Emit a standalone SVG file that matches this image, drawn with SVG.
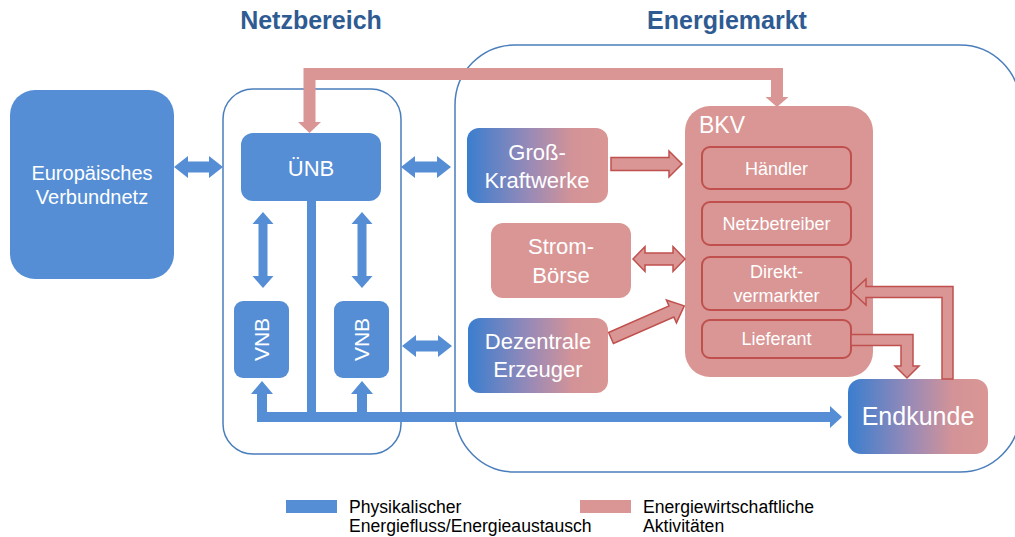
<svg xmlns="http://www.w3.org/2000/svg" width="1015" height="537" viewBox="0 0 1015 537">
<defs>
<linearGradient id="g" x1="0" y1="0" x2="1" y2="0">
<stop offset="0" stop-color="#3A7ECF"/>
<stop offset="0.45" stop-color="#9A8AB6"/>
<stop offset="0.75" stop-color="#D39397"/>
<stop offset="1" stop-color="#D99694"/>
</linearGradient>
<style>
.t{font-family:"Liberation Sans",Arial,sans-serif;}
.w{fill:#fff;text-anchor:middle;}
.title{font-weight:bold;font-size:25px;fill:#2F5B93;text-anchor:middle;}
.blue{fill:#558ED5;}
.pink{fill:#D99694;}
.po{fill:#D99694;stroke:#C0504D;stroke-width:1.5;}
.inner{fill:#D99694;stroke:#C0504D;stroke-width:2;}
.cont{fill:none;stroke:#4A7EBB;stroke-width:1.5;}
.leg{font-size:17.6px;fill:#000;}
</style>
</defs>
<rect width="1015" height="537" fill="#fff"/>

<text class="t title" x="311" y="29">Netzbereich</text>
<text class="t title" x="727" y="29">Energiemarkt</text>

<g id="netzbereich"><rect class="cont" x="223" y="89" width="178" height="365" rx="30"/></g>
<g id="energiemarkt"><rect class="cont" x="455" y="45" width="565" height="427" rx="60"/></g>

<g id="europa">
<rect class="blue" x="10" y="90" width="164" height="189" rx="25"/>
<text class="t w" x="92" y="180" font-size="20">Europäisches</text>
<text class="t w" x="92" y="204" font-size="20">Verbundnetz</text>
</g>

<g id="uenb">
<rect class="blue" x="241" y="133" width="140" height="68" rx="12"/>
<text class="t w" x="311" y="176" font-size="22">ÜNB</text>
</g>

<g id="vnb1">
<rect class="blue" x="234" y="301" width="55" height="77" rx="9"/>
<text class="t w" font-size="21" transform="translate(269,339.5) rotate(-90)">VNB</text>
</g>
<g id="vnb2">
<rect class="blue" x="334" y="301" width="55" height="77" rx="9"/>
<text class="t w" font-size="21" transform="translate(369,339.5) rotate(-90)">VNB</text>
</g>

<g id="grosskraftwerke">
<rect fill="url(#g)" x="467" y="128" width="141" height="75" rx="12"/>
<text class="t w" x="537" y="160" font-size="22">Groß-</text>
<text class="t w" x="537" y="188" font-size="22">Kraftwerke</text>
</g>

<g id="stromboerse">
<rect class="pink" x="491" y="223" width="140" height="75" rx="12"/>
<text class="t w" x="561" y="254" font-size="22">Strom-</text>
<text class="t w" x="561" y="283" font-size="22">Börse</text>
</g>

<g id="dezentrale">
<rect fill="url(#g)" x="468" y="318" width="140" height="75" rx="12"/>
<text class="t w" x="538" y="349" font-size="22">Dezentrale</text>
<text class="t w" x="538" y="377" font-size="22">Erzeuger</text>
</g>

<g id="bkv">
<rect class="pink" x="685" y="106" width="188" height="271" rx="25"/>
<text class="t" x="699" y="133" font-size="23" fill="#fff">BKV</text>
<g id="haendler">
<rect class="inner" x="702" y="147" width="149" height="42" rx="8"/>
<text class="t w" x="776.5" y="175" font-size="18">Händler</text>
</g>
<g id="netzbetreiber">
<rect class="inner" x="702" y="202" width="149" height="43" rx="8"/>
<text class="t w" x="776.5" y="230" font-size="18">Netzbetreiber</text>
</g>
<g id="direktvermarkter">
<rect class="inner" x="702" y="257" width="149" height="53" rx="8"/>
<text class="t w" x="776.5" y="278" font-size="18">Direkt-</text>
<text class="t w" x="776.5" y="302" font-size="18">vermarkter</text>
</g>
<g id="lieferant">
<rect class="inner" x="702" y="320" width="149" height="38" rx="8"/>
<text class="t w" x="776.5" y="345" font-size="18">Lieferant</text>
</g>
</g>

<g id="endkunde">
<rect fill="url(#g)" x="848" y="379" width="140" height="75" rx="13"/>
<text class="t w" x="918" y="425" font-size="25">Endkunde</text>
</g>

<g id="connectors">
<polygon class="blue" points="174,167 188,156 188,161.5 209,161.5 209,156 223,167 209,178 209,172.5 188,172.5 188,178"/>
<polygon class="blue" points="401,167 415,156 415,161.5 437,161.5 437,156 451,167 437,178 437,172.5 415,172.5 415,178"/>
<polygon class="blue" points="402,346 416,335 416,340.5 438,340.5 438,335 452,346 438,357 438,351.5 416,351.5 416,357"/>
<polygon class="blue" points="263,212 273.5,224 267.5,224 267.5,276 273.5,276 263,288 252.5,276 258.5,276 258.5,224 252.5,224"/>
<polygon class="blue" points="362,212 372.5,224 366.5,224 366.5,276 372.5,276 362,288 351.5,276 357.5,276 357.5,224 351.5,224"/>
<rect class="blue" x="307" y="201" width="9" height="216"/>
<polygon class="blue" points="262,381 273,394 267,394 267,412 357,412 357,394 351,394 362,381 373,394 367,394 367,412 830,412 830,406 842,417 830,428 830,422 257,422 257,394 251,394"/>
<path d="M309.5,122 V74 H777 V97" fill="none" stroke="#D99694" stroke-width="12"/>
<polygon class="pink" points="298,122 321,122 309.5,133"/>
<polygon class="pink" points="765.5,97 788.5,97 777,107"/>
<polygon class="po" points="611,157.5 669,157.5 669,151 682,164 669,177 669,170.5 611,170.5"/>
<polygon class="po" points="633,259 645,246.5 645,253 673,253 673,246.5 685,259 673,271.5 673,265 645,265 645,271.5"/>
<polygon class="po" transform="translate(611,338) rotate(-23.7)" points="0,-6 66,-6 66,-12.5 80,0 66,12.5 66,6 0,6"/>
<polygon class="po" points="942,379 953,379 953,286.5 866,286.5 866,279 852,292 866,305 866,297.5 942,297.5"/>
<polygon class="po" points="851,334.5 913,334.5 913,366 919,366 907,378 895,366 901,366 901,345.5 851,345.5"/>
</g>

<g id="legend">
<rect class="blue" x="286" y="500" width="51" height="13"/>
<text class="t leg" x="349" y="513">Physikalischer</text>
<text class="t leg" x="349" y="532">Energiefluss/Energieaustausch</text>
<rect class="pink" x="580" y="500" width="51" height="13"/>
<text class="t leg" x="643" y="513">Energiewirtschaftliche</text>
<text class="t leg" x="643" y="532">Aktivitäten</text>
</g>
</svg>
